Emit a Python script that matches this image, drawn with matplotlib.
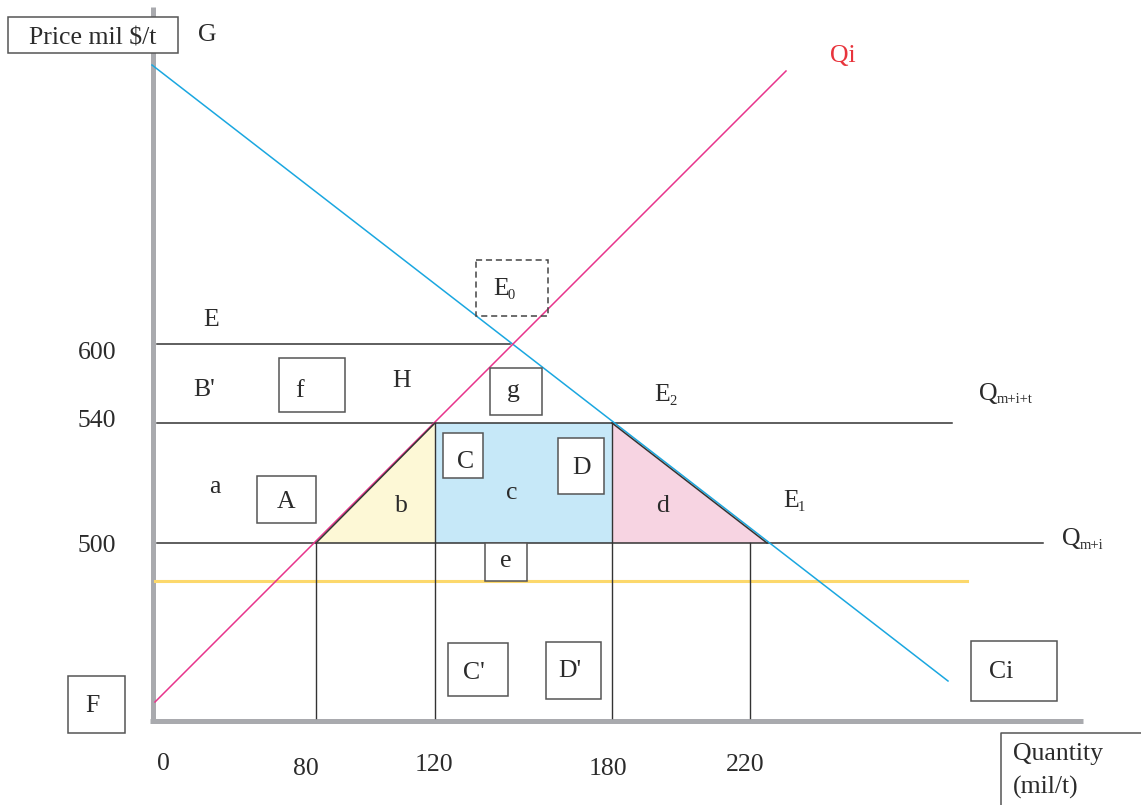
import matplotlib
matplotlib.use("Agg")
import matplotlib.pyplot as plt
from matplotlib.patches import Polygon, Rectangle

# diagram is not to scale, so positions are in drawing units (pixels of the sketch)
quantity_ticks = ["0", "80", "120", "180", "220"]
quantity_x = [163, 316, 435, 612, 750]
price_ticks = ["600", "540", "500"]
price_y = [344, 423, 543]

demand_x = [152, 948]
demand_y = [65, 681]
supply_x = [155, 786]
supply_y = [702, 71]
import_x = [155, 967]
import_y = [581, 581]

boxes = {  # label: (x0, y0, x1, y1)
    "A": (257, 476, 316, 523),
    "f": (279, 358, 345, 412),
    "g": (490, 368, 542, 415),
    "C": (443, 433, 483, 478),
    "D": (558, 438, 604, 494),
    "e": (485, 543, 527, 581),
    "C'": (448, 643, 508, 696),
    "D'": (546, 642, 601, 699),
    "Ci": (971, 641, 1057, 701),
    "F": (68, 676, 125, 733),
}
box_text = {
    "A": (286, 508), "f": (299, 397), "g": (513, 397), "C": (466, 468),
    "D": (582, 474), "e": (506, 567), "C'": (474, 679), "D'": (570, 677),
    "Ci": (1001, 678), "F": (92, 712),
}
free_text = {
    "G": (207, 41), "E": (211, 326), "B'": (204, 396), "H": (402, 387),
    "a": (215, 493), "b": (401, 512), "c": (512, 499), "d": (663, 512),
}
sub_text = [  # main, sub, x, baseline, sub x, sub baseline
    ("E", "0", 493, 295, 508, 299),
    ("E", "2", 654, 401, 669, 405),
    ("E", "1", 783, 507, 798, 511),
    ("Q", "m+i+t", 979, 400, 997, 403),
    ("Q", "m+i", 1062, 545, 1080, 549),
]
qtick_base = [770, 775, 771, 775, 771]
qtick_cx = [163, 306, 434, 608, 745]

INK = "#2b2b2b"
EDGE = "#555555"
FS = 18.5

plt.rcParams["font.family"] = ["Liberation Serif", "DejaVu Serif"]

fig = plt.figure(figsize=(11.41, 8.05), dpi=100)
ax = fig.add_axes([0, 0, 1, 1])
ax.set_xlim(0, 1141)
ax.set_ylim(805, 0)
ax.axis("off")

q80, q120, q180, q220 = quantity_x[1:]
p600, p540, p500 = price_y
e1x = 767

# shaded areas
ax.add_patch(Polygon([(q80, p500), (q120, p540), (q120, p500)], closed=True,
                     facecolor="#fdf8d6", edgecolor="none", zorder=1))
ax.add_patch(Rectangle((q120, p540), q180 - q120, p500 - p540,
                       facecolor="#c6e8f8", edgecolor="none", zorder=1))
ax.add_patch(Polygon([(q180, p540), (q180, p500), (e1x, p500)], closed=True,
                     facecolor="#f7d4e2", edgecolor="none", zorder=1))

# axes
ax.plot([152.5, 152.5], [7, 723], color="#a9aaae", lw=3.6, solid_capstyle="butt", zorder=2)
ax.plot([150, 1083], [720.5, 720.5], color="#a9aaae", lw=3.6, solid_capstyle="butt", zorder=2)

# price levels
ax.plot([157, 510], [p600, p600], color="#333333", lw=1.1, zorder=3)
ax.plot([157, 952], [p540, p540], color="#333333", lw=1.1, zorder=3)
ax.plot([157, 1043], [p500, p500], color="#333333", lw=1.1, zorder=3)
ax.plot(import_x, import_y, color="#fcd86c", lw=2.2, zorder=3)

# quantity guides
ax.plot([q80, q80], [p500, 718], color="#333333", lw=1.0, zorder=3)
ax.plot([q120, q120], [p540, 718], color="#333333", lw=1.0, zorder=3)
ax.plot([q180, q180], [p540, 718], color="#333333", lw=1.0, zorder=3)
ax.plot([q220, q220], [p500, 718], color="#333333", lw=1.0, zorder=3)

# curves
ax.plot(demand_x, demand_y, color="#1aa7e0", lw=1.1, zorder=4)
ax.plot(supply_x, supply_y, color="#e8348c", lw=1.1, zorder=4)
ax.plot([q80, q120], [p500, p540], color="#333333", lw=1.1, zorder=5)
ax.plot([q180, e1x], [p540, p500], color="#333333", lw=1.1, zorder=5)

# boxes
for k, (x0, y0, x1, y1) in boxes.items():
    ax.add_patch(Rectangle((x0, y0), x1 - x0, y1 - y0, facecolor="white",
                           edgecolor=EDGE, lw=1.1, zorder=6))
    tx, ty = box_text[k]
    ax.text(tx, ty, k, fontsize=FS, color=INK, ha="center", va="baseline", zorder=7)

ax.add_patch(Rectangle((476, 260), 72, 56, facecolor="none", edgecolor="#444444",
                       lw=1.1, ls=(0, (4, 2.5)), zorder=6))
ax.add_patch(Rectangle((8, 17), 170, 36, facecolor="white", edgecolor=EDGE, lw=1.1, zorder=6))
ax.text(93, 44, "Price mil $/t", fontsize=FS, color=INK, ha="center", va="baseline", zorder=7)
ax.plot([1001, 1001, 1141], [805, 733, 733], color=EDGE, lw=1.1, zorder=6)
ax.text(1013, 760, "Quantity", fontsize=FS, color=INK, ha="left", va="baseline")
ax.text(1013, 794, "(mil/t)", fontsize=FS, color=INK, ha="left", va="baseline")

for k, (tx, ty) in free_text.items():
    ax.text(tx, ty, k, fontsize=FS, color=INK, ha="center", va="baseline", zorder=7)
for m, s, x, y, sx, sy in sub_text:
    ax.text(x, y, m, fontsize=FS, color=INK, ha="left", va="baseline", zorder=7)
    ax.text(sx, sy, s, fontsize=10.5, color=INK, ha="left", va="baseline", zorder=7)

ax.text(843, 62, "Qi", fontsize=FS, color="#e8343c", ha="center", va="baseline")

for lab, y in zip(price_ticks, [359, 427, 552]):
    ax.text(97, y, lab, fontsize=FS, color=INK, ha="center", va="baseline")
for lab, x, y in zip(quantity_ticks, qtick_cx, qtick_base):
    ax.text(x, y, lab, fontsize=FS, color=INK, ha="center", va="baseline")

fig.savefig("out.png", dpi=100, facecolor="white")
